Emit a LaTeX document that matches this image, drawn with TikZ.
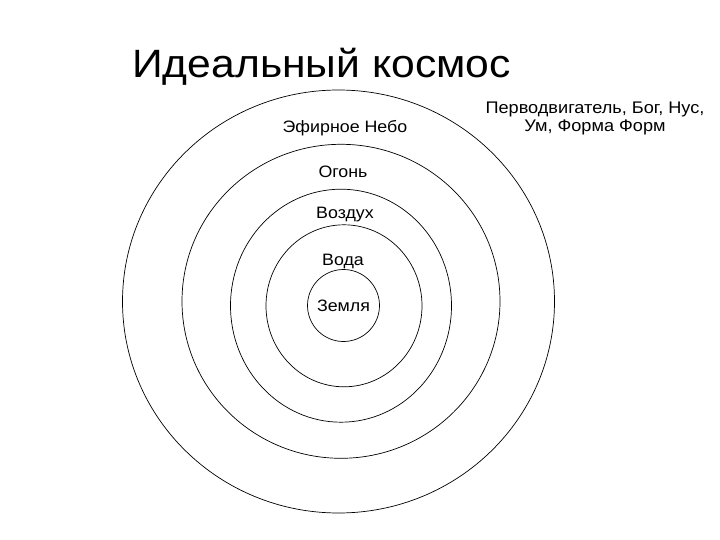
\documentclass[tikz,border=0pt]{standalone}
\usepackage{fontspec}
\setmainfont{Liberation Sans}[FakeStretch=1.08]
\usetikzlibrary{shapes.geometric,positioning}

\begin{document}
\begin{tikzpicture}[x=1pt,y=-1pt,
			ring/.style={draw,ellipse,line width=.7pt,inner sep=0pt},
			lbl/.style={inner sep=0pt,anchor=base,font=\fontsize{16.5}{20}\selectfont}]
			\useasboundingbox (0,0) rectangle (720,540);
			% spheres, from outside to the centre
			\node (ether) [ring,minimum width=432,minimum height=423] at (338.5,301.5) {};
			\node (fire)  [ring,minimum width=318,minimum height=314] at (341,301.3) {};
			\node (air)   [ring,minimum width=221,minimum height=233] at (341,305.7) {};
			\node (water) [ring,minimum width=156,minimum height=162] at (344,305.8) {};
			\node (earth) [ring,minimum width=72,minimum height=72] at (343.5,305.5) {};
			% names of the spheres
			\node (etherlbl) [lbl] at (345,132.3) {Эфирное Небо};
			\node (firelbl)  [lbl] at (343,177.7) {Огонь};
			\node (airlbl)   [lbl] at (345,218.3) {Воздух};
			\node (waterlbl) [lbl] at (343,265) {Вода};
			\node (earthlbl) [lbl] at (343.5,311.7) {Земля};
			% heading and the mover
			\node (title) [inner sep=0pt,anchor=base west,font=\fontsize{39.5}{44}\selectfont] at (132,77.3) {Идеальный космос};
			\node (mover) [lbl,align=center,font=\fontsize{16.8}{18}\selectfont] at (595,131.7) {Перводвигатель, Бог, Нус,\\ Ум, Форма Форм};
		\end{tikzpicture}
\end{document}
